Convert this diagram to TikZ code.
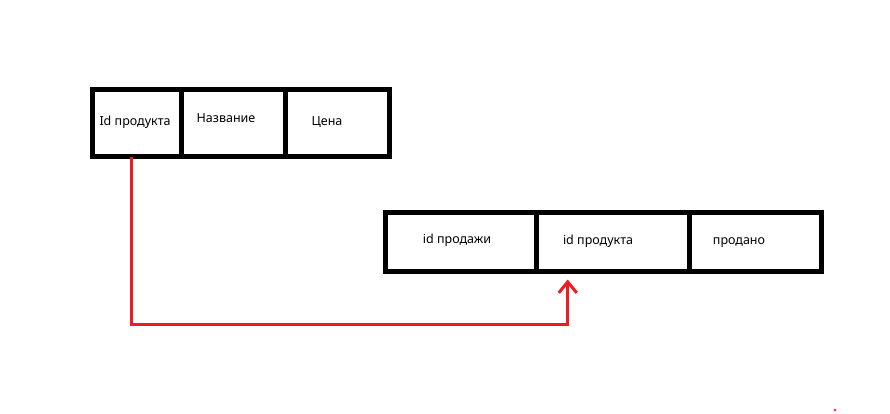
\documentclass[tikz,border=0pt]{standalone}
\usepackage{fontspec}
\setmainfont{Noto Sans}
\definecolor{paintred}{RGB}{237,28,36}
\usetikzlibrary{positioning,arrows.meta}

\begin{document}
\begin{tikzpicture}[x=1pt,y=-1pt,node distance=0pt,font=\fontsize{12.5}{14}\selectfont]
    \tikzstyle{cell}=[draw=black,line width=5pt,outer sep=0pt,inner sep=0pt,
                      minimum height=67.5pt,anchor=north west]
    \tikzstyle{link}=[draw=paintred,line width=3pt,-{Straight Barb[length=11pt,width=18pt]}]

    \useasboundingbox (0,0) rectangle (890,413);

    % products table
    \node[cell,minimum width=89pt] (prodId) at (92,89) {};
    \node[cell,minimum width=104.5pt,anchor=west] (prodName) [right=of prodId] {};
    \node[cell,minimum width=104pt,anchor=west] (prodPrice) [right=of prodName] {};

    \node (prodIdText) at (135,122) {Id продукта};
    \node (prodNameText) at (226,118) {Название};
    \node (prodPriceText) at (327,122) {Цена};

    % sales table
    \node[cell,minimum width=150.5pt,minimum height=59pt] (saleId) at (385.5,212.5) {};
    \node[cell,minimum width=153.5pt,minimum height=59pt,anchor=west] (saleProd) [right=of saleId] {};
    \node[cell,minimum width=131.5pt,minimum height=59pt,anchor=west] (saleSold) [right=of saleProd] {};

    \node (saleIdText) at (457,240) {id продажи};
    \node (saleProdText) at (598,241) {id продукта};
    \node (saleSoldText) at (739,243) {продано};

    \coordinate (fromId) at ([xshift=-5.5pt]prodId.south);
    \coordinate (toProd) at ([xshift=-45pt,yshift=-8pt]saleProd.south);
    \coordinate (bottom) at (0,324.5);

    \draw[link] (fromId) -- (fromId |- bottom) -- (toProd |- bottom) -- (toProd);

    \fill[paintred] (835,410) circle (1.3pt);
\end{tikzpicture}
\end{document}
